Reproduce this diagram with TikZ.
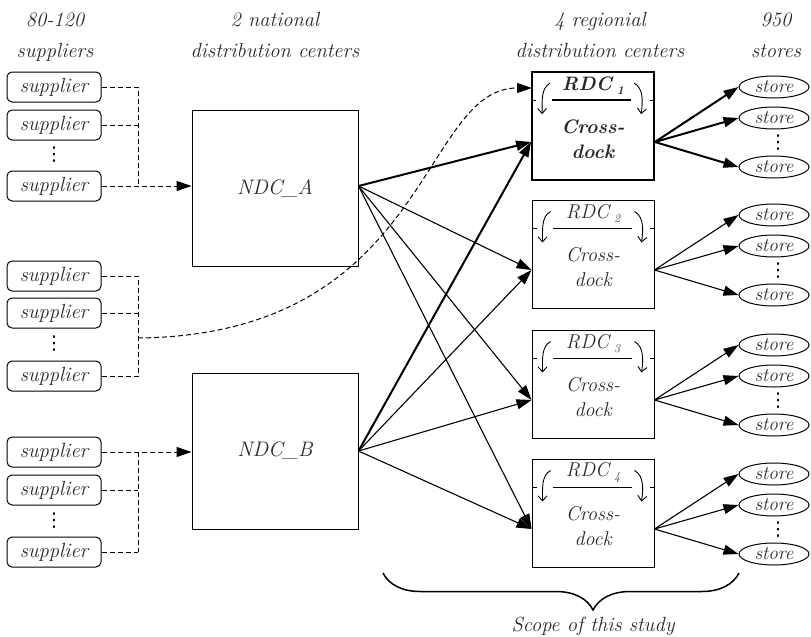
\documentclass[tikz,border=0pt]{standalone}
\usepackage{fontspec}
\newfontfamily\djv{DejaVu Sans}
\usetikzlibrary{arrows.meta,shapes.geometric,decorations.pathreplacing,calc}
\definecolor{txt}{HTML}{2A2A2A}
\newcommand\fsz[1]{\fontsize{#1}{#1}\selectfont}
\newcommand\rdcnode[5]{%
  \node[rdc, line width=#5] (#1) at (593,#2+54) {};
  \node[font=#4] (#1lab) at (593,#2+14) {RDC\hspace{5pt}\raisebox{-4pt}{\fontsize{12}{12}\selectfont #3}};
  \node[font=#4, align=center] (#1cd) at (593,#2+67) {Cross-\\dock};
  \draw[line width=#5] ($(#1.north west)+(21,29)$) -- ($(#1.north west)+(100,29)$);
  \draw[line width=1pt] ($(#1.north west)+(0,29)$) -- ++(5,0);
  \draw[line width=1pt] ($(#1.north east)+(0,29)$) -- ++(-5,0);
  \draw[curv] ($(#1.north west)+(19,12)$) .. controls +(-9,5) and +(0,-14) .. ($(#1.north west)+(11,43)$);
  \draw[curv] ($(#1.north west)+(103,12)$) .. controls +(9,5) and +(2,-14) .. ($(#1.north west)+(110,43)$);
}
\begin{document}
\begin{tikzpicture}[x=1pt,y=-1pt,
  every node/.style={text=txt},
  sup/.style={draw, rounded corners=5pt, minimum width=94pt, minimum height=30pt, inner sep=0pt, line width=1pt, font=\fsz{20.5}\itshape},
  ndc/.style={draw, minimum width=166pt, minimum height=156pt, line width=1pt, font=\fsz{21}\itshape},
  rdc/.style={draw, minimum width=122pt, minimum height=108pt},
  store/.style={draw, ellipse, minimum width=70pt, minimum height=22pt, inner sep=0pt, line width=1pt, font=\fsz{19}\itshape},
  dashln/.style={line width=1pt, dash pattern=on 5pt off 3pt},
  tip/.style={-{Triangle[length=15pt,width=10pt]}},
  thinarr/.style={tip, line width=1.1pt},
  thickarr/.style={tip, line width=2pt},
  curv/.style={line width=0.9pt, -{Straight Barb[length=5pt,width=9pt]}},
  hdr/.style={anchor=base, font=\fsz{20.5}\itshape},
  vd/.style={font=\djv\fsz{19}, inner sep=0pt, text=black}
]
\useasboundingbox (0,0) rectangle (811,637);

% headers
\node[hdr] (h1a) at (55,27) {80-120};
\node[hdr] (h1b) at (55,57) {suppliers};
\node[hdr] (h2a) at (275,27) {2 national};
\node[hdr] (h2b) at (275,57) {distribution centers};
\node[hdr] (h3a) at (600,27) {4 regionial};
\node[hdr] (h3b) at (600,57) {distribution centers};
\node[hdr] (h4a) at (776,27) {950};
\node[hdr] (h4b) at (776,57) {stores};

% suppliers
\node[sup] (s11) at (54,87) {supplier};
\node[sup] (s12) at (54,125) {supplier};
\node[vd] (d1) at (54,155) {⋮};
\node[sup] (s13) at (54,186) {supplier};
\node[sup] (s21) at (54,276) {supplier};
\node[sup] (s22) at (54,313) {supplier};
\node[vd] (d2) at (54,344) {⋮};
\node[sup] (s23) at (54,376) {supplier};
\node[sup] (s31) at (54,452) {supplier};
\node[sup] (s32) at (54,490) {supplier};
\node[vd] (d3) at (54,521) {⋮};
\node[sup] (s33) at (54,552) {supplier};

% NDCs
\node[ndc] (A) at (275,188) {NDC\_A};
\node[ndc] (B) at (275,451) {NDC\_B};

% RDCs
\rdcnode{R1}{72}{1}{\fontsize{19.5}{25}\selectfont\bfseries\itshape}{1.8pt}
\rdcnode{R2}{200}{2}{\fontsize{20}{25}\selectfont\itshape}{1pt}
\rdcnode{R3}{330}{3}{\fontsize{20}{25}\selectfont\itshape}{1pt}
\rdcnode{R4}{459}{4}{\fontsize{20}{25}\selectfont\itshape}{1pt}

\coordinate (v) at (138,0);
\coordinate (c2) at (138,338);
\coordinate (r1in) at (532,88);

% dashed supplier links
\draw[dashln] (s11.east) -- (s11.east -| v) -- (s13.east -| v);
\draw[dashln] (s12.east) -- (s12.east -| v);
\draw[dashln, tip] (s13.east) -- (s13.east -| A.west);
\draw[dashln] (s21.east) -- (s21.east -| v) -- (s23.east -| v);
\draw[dashln] (s22.east) -- (s22.east -| v);
\draw[dashln] (s23.east) -- (s23.east -| v);
\draw[dashln, tip] (c2) .. controls (430,335) and (420,88) .. (r1in);
\draw[dashln, tip] (s31.east) -- (s31.east -| B.west);
\draw[dashln] (s31.east -| v) -- (s33.east -| v);
\draw[dashln] (s32.east) -- (s32.east -| v);
\draw[dashln] (s33.east) -- (s33.east -| v);

% NDC -> RDC
\foreach \r in {R1,R2,R3,R4} {
  \coordinate (\r in) at ($(\r.west)+(0,16)$);
  \coordinate (\r out) at ($(\r.east)+(0,16)$);
}
\coordinate (oA) at ($(A.east)+(0,-2)$);
\draw[thickarr] (oA) -- (R1in);
\draw[thinarr] (oA) -- (R2in);
\draw[thinarr] (oA) -- (R3in);
\draw[thinarr] (oA) -- (R4in);
\draw[thickarr] (B.east) -- (R1in);
\draw[thinarr] (B.east) -- (R2in);
\draw[thinarr] (B.east) -- (R3in);
\draw[thinarr] (B.east) -- (R4in);

% stores
\foreach \r/\t/\st in {R1/72/thickarr, R2/200/thinarr, R3/330/thinarr, R4/459/thinarr} {
  \node[store] (\r a) at (774,\t+15) {store};
  \node[store] (\r b) at (774,\t+46) {store};
  \node[vd] (\r d) at (778,\t+71) {⋮};
  \node[store] (\r c) at (774,\t+95) {store};
  \draw[\st] (\r out) -- (\r a.west);
  \draw[\st] (\r out) -- (\r b.west);
  \draw[\st] (\r out) -- (\r c.west);
}

% brace
\coordinate (bl) at (383,573);
\coordinate (br) at (739,573);
\draw[decorate, decoration={brace, amplitude=37pt, aspect=0.59, mirror}, line width=1.5pt] (bl) -- (br);
\node[font=\fsz{20.5}\itshape] (scope) at (593,626) {Scope of this study};
\end{tikzpicture}
\end{document}
